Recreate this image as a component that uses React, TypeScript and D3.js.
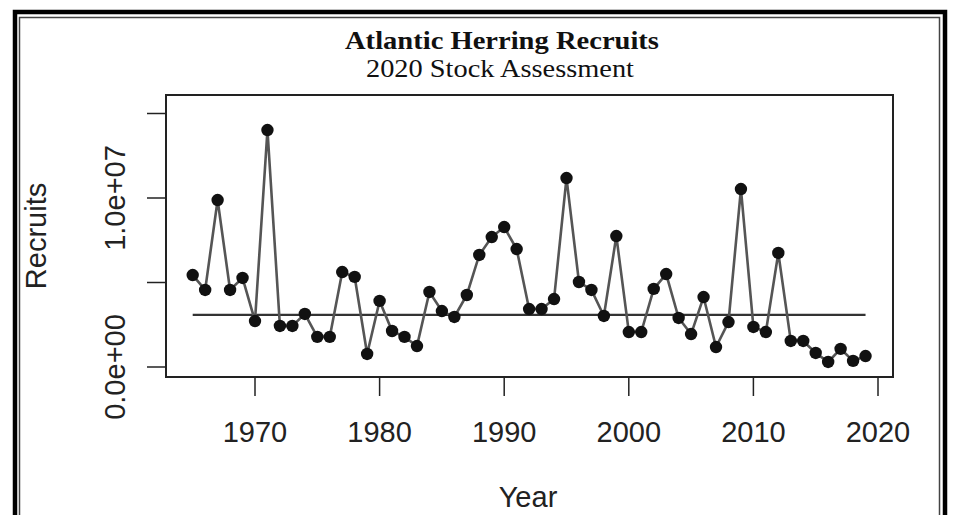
import React from "react";
import * as d3 from "d3";

// Recruits by year
const years = [
  1965, 1966, 1967, 1968, 1969, 1970, 1971, 1972, 1973, 1974,
  1975, 1976, 1977, 1978, 1979, 1980, 1981, 1982, 1983, 1984,
  1985, 1986, 1987, 1988, 1989, 1990, 1991, 1992, 1993, 1994,
  1995, 1996, 1997, 1998, 1999, 2000, 2001, 2002, 2003, 2004,
  2005, 2006, 2007, 2008, 2009, 2010, 2011, 2012, 2013, 2014,
  2015, 2016, 2017, 2018, 2019,
];
const recruits = [
  5.44e6, 4.56e6, 9.88e6, 4.56e6, 5.27e6, 2.72e6, 14.02e6, 2.43e6, 2.43e6, 3.14e6,
  1.78e6, 1.78e6, 5.62e6, 5.33e6, 0.77e6, 3.91e6, 2.13e6, 1.78e6, 1.24e6, 4.44e6,
  3.31e6, 2.96e6, 4.26e6, 6.63e6, 7.69e6, 8.28e6, 6.98e6, 3.43e6, 3.43e6, 4.02e6,
  11.18e6, 5.03e6, 4.56e6, 3.02e6, 7.75e6, 2.07e6, 2.07e6, 4.62e6, 5.5e6, 2.9e6,
  1.95e6, 4.14e6, 1.18e6, 2.66e6, 10.53e6, 2.37e6, 2.07e6, 6.75e6, 1.54e6, 1.54e6,
  0.83e6, 0.3e6, 1.07e6, 0.36e6, 0.65e6,
];
// horizontal reference level drawn across the series
const referenceLevel = 3.08e6;

const xTicks = [1970, 1980, 1990, 2000, 2010, 2020];
const yTicks = [0, 5e6, 1e7, 1.5e7];
const yLabelled = [0, 1e7];

const title = "Atlantic Herring Recruits";
const subtitle = "2020 Stock Assessment";

const W = 960;
const H = 515;
const box = { left: 166, right: 893, top: 95, bottom: 377 };

// R style scientific label: 1.0e+07
const sci = (v: number) => {
  const [m, e] = v.toExponential(1).split("e");
  const sign = e[0];
  const digits = e.slice(1).padStart(2, "0");
  return `${m}e${sign}${digits}`;
};

const App = () => {
  const x = d3.scaleLinear().domain([1970, 2020]).range([255, 878]);
  const y = d3.scaleLinear().domain([0, 1e7]).range([367, 198]);

  const data = years.map((yr, i) => ({ yr, v: recruits[i] }));
  const line = d3
    .line<{ yr: number; v: number }>()
    .x((d) => x(d.yr))
    .y((d) => y(d.v));

  const axisFont = "Liberation Sans, Arial, sans-serif";
  const serif = "Liberation Serif, Times New Roman, serif";

  return (
    <div style={{ position: "absolute", left: 0, top: 0 }}>
      <svg width={W} height={H} style={{ display: "block", background: "#fff" }}>
        {/* frame */}
        <rect x={15} y={12} width={930} height={H + 20} fill="none" stroke="#000" strokeWidth={4.5} />
        <rect x={19.5} y={17.5} width={920} height={H + 20} fill="none" stroke="#444" strokeWidth={1.5} />

        {/* titles */}
        <text x={502} y={49} textAnchor="middle" fontFamily={serif} fontWeight="bold" fontSize={26}
          textLength={314} lengthAdjust="spacingAndGlyphs" fill="#111">
          {title}
        </text>
        <text x={500} y={77} textAnchor="middle" fontFamily={serif} fontSize={26}
          textLength={268} lengthAdjust="spacingAndGlyphs" fill="#111">
          {subtitle}
        </text>

        {/* plot box */}
        <rect x={box.left} y={box.top} width={box.right - box.left} height={box.bottom - box.top}
          fill="none" stroke="#222" strokeWidth={2} />

        {/* y axis */}
        {yTicks.map((t) => (
          <line key={t} x1={147} x2={box.left} y1={y(t)} y2={y(t)} stroke="#222" strokeWidth={1.5} />
        ))}
        {yLabelled.map((t) => (
          <text key={t} transform={`translate(125,${y(t)}) rotate(-90)`} textAnchor="middle"
            fontFamily={axisFont} fontSize={29} fill="#222">
            {sci(t)}
          </text>
        ))}
        <text transform={`translate(46,${(box.top + box.bottom) / 2}) rotate(-90)`} textAnchor="middle"
          fontFamily={axisFont} fontSize={29} fill="#222">
          Recruits
        </text>

        {/* x axis */}
        {xTicks.map((t) => (
          <g key={t}>
            <line x1={x(t)} x2={x(t)} y1={box.bottom} y2={396} stroke="#222" strokeWidth={1.5} />
            <text x={x(t)} y={442} textAnchor="middle" fontFamily={axisFont} fontSize={29} fill="#222">
              {t}
            </text>
          </g>
        ))}
        <text x={528} y={507} textAnchor="middle" fontFamily={axisFont} fontSize={29} fill="#222">
          Year
        </text>

        {/* reference level */}
        <line x1={x(years[0])} x2={x(years[years.length - 1])} y1={y(referenceLevel)} y2={y(referenceLevel)}
          stroke="#333" strokeWidth={2.2} />

        {/* series */}
        <path d={line(data) ?? ""} fill="none" stroke="#555" strokeWidth={2.6} />
        {data.map((d) => (
          <circle key={d.yr} cx={x(d.yr)} cy={y(d.v)} r={6.2} fill="#111" />
        ))}
      </svg>
    </div>
  );
};

export default App;
